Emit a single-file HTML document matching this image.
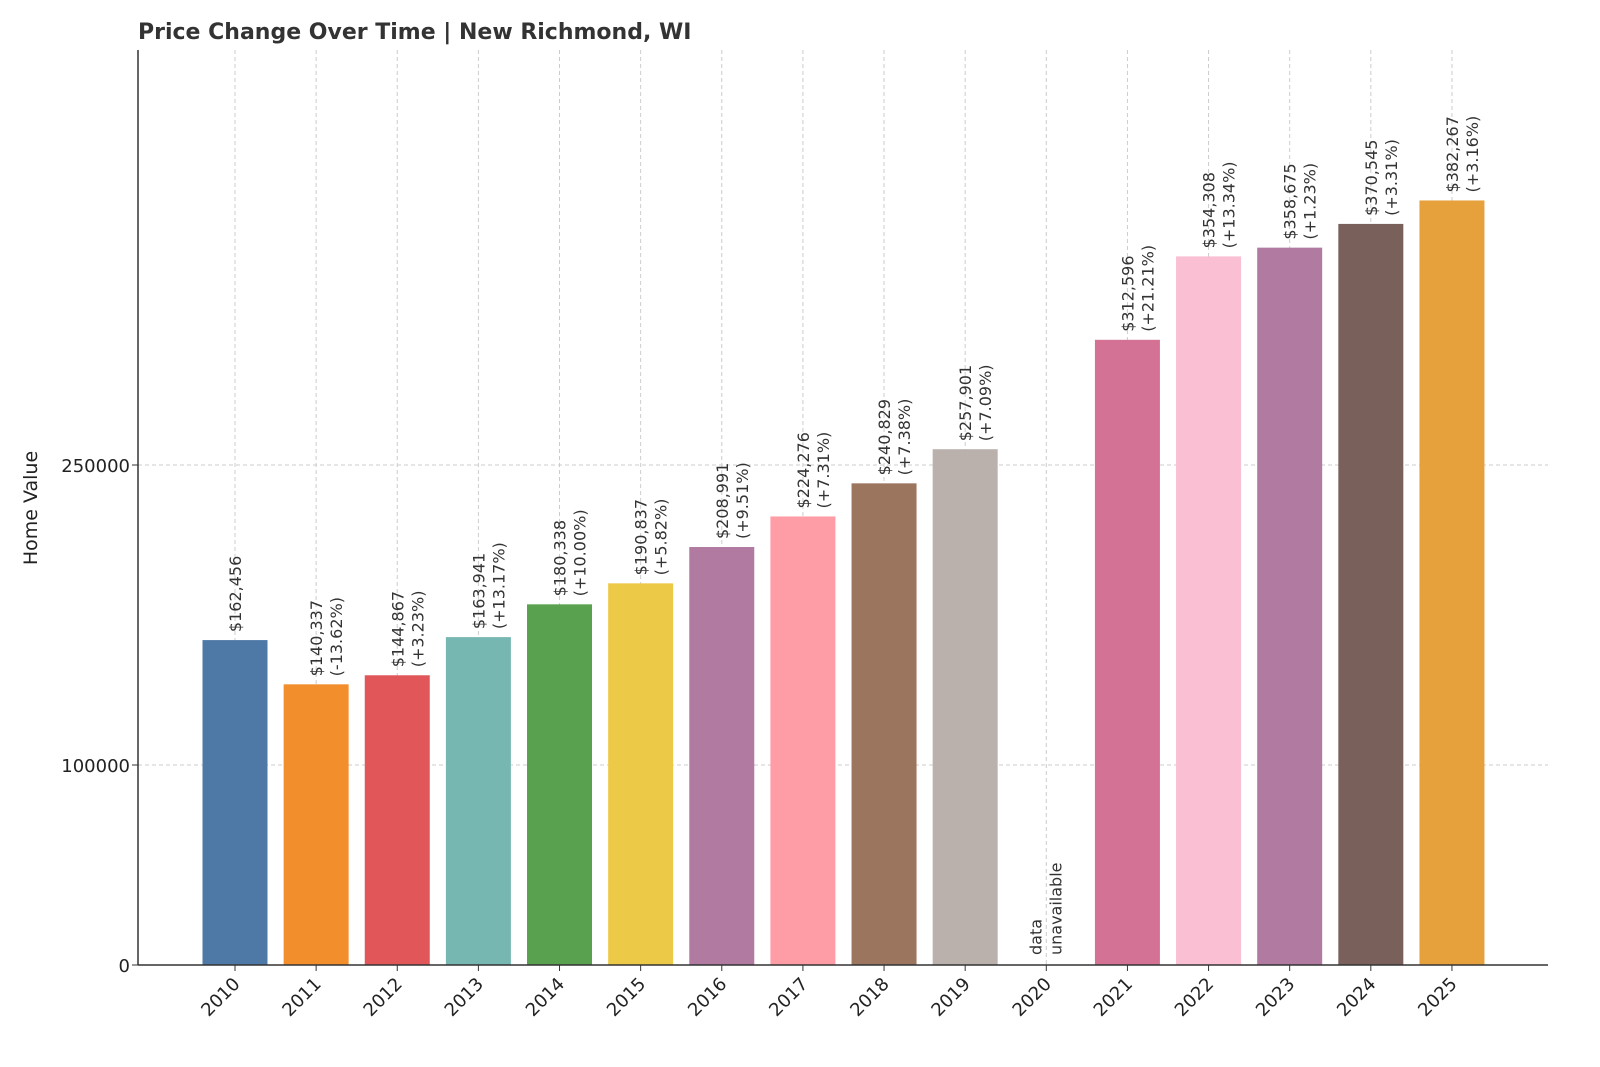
<!DOCTYPE html>
<html><head><meta charset="utf-8"><style>
body{margin:0;background:#fff;}
svg{display:block;font-family:"DejaVu Sans","Liberation Sans",sans-serif;}
</style></head><body>
<svg id="chart" width="1600" height="1067" viewBox="0 0 1600 1067">
<text x="138" y="39" font-size="22" font-weight="bold" fill="#333">Price Change Over Time | New Richmond, WI</text>
<text transform="translate(37,508) rotate(-90)" text-anchor="middle" font-size="19" fill="#222">Home Value</text>
<g id="grid"></g><g id="bars"></g><g id="labels"></g><g id="axes"></g>
</svg>
<script>
const years=["2010","2011","2012","2013","2014","2015","2016","2017","2018","2019","2020","2021","2022","2023","2024","2025"];
const values=[162456,140337,144867,163941,180338,190837,208991,224276,240829,257901,null,312596,354308,358675,370545,382267];
const pctLabels=["","(-13.62%)","(+3.23%)","(+13.17%)","(+10.00%)","(+5.82%)","(+9.51%)","(+7.31%)","(+7.38%)","(+7.09%)","","(+21.21%)","(+13.34%)","(+1.23%)","(+3.31%)","(+3.16%)"];
const colors=["#4e79a7","#f28e2b","#e15759","#76b7b2","#59a14f","#edc948","#b07aa1","#ff9da7","#9c755f","#bab0ac","#888","#d37295","#fabfd2","#b07aa1","#79605b","#e6a03c"];
const yTicks=[0,100000,250000];
const NS="http://www.w3.org/2000/svg";
const L=138,R=1548,T=50,B=965;
const y=v=>B-v*0.002;
const x=i=>235+i*81.13;
const BW=65;
function mk(tag,attrs,parent){const e=document.createElementNS(NS,tag);for(const k in attrs)e.setAttribute(k,attrs[k]);parent.appendChild(e);return e;}
const grid=document.getElementById('grid'),bars=document.getElementById('bars'),labels=document.getElementById('labels'),axes=document.getElementById('axes');
years.forEach((yr,i)=>{
  const g=mk('line',{x1:x(i),x2:x(i),y1:T,y2:B,stroke:"#ccc","stroke-dasharray":"4,3","stroke-width":1},grid);
  
  
});
yTicks.forEach(t=>{
  if(t===0)return;
  const g=mk('line',{x1:L,x2:R,y1:y(t),y2:y(t),stroke:"#ccc","stroke-dasharray":"4,3","stroke-width":1},grid);
  
  
});
years.forEach((yr,i)=>{
  const v=values[i];
  if(v===null){
    const t=mk('text',{transform:`translate(${x(i)-5},955) rotate(-90)`,"font-size":16,fill:"#333"},labels);
    
    
    const a=mk('tspan',{x:0,dy:0},t);a.textContent="data";
    const b=mk('tspan',{x:0,dy:20},t);b.textContent="unavailable";
  } else {
    const r=mk('rect',{x:x(i)-BW/2,y:y(v),width:BW,height:B-y(v),fill:colors[i]},bars);
    
    
    const t=mk('text',{transform:`translate(${x(i)+6},${y(v)-8}) rotate(-90)`,"font-size":16,fill:"#333"},labels);
    
    
    const a=mk('tspan',{x:0,dy:0},t);a.textContent="$"+v.toLocaleString('en-US');
    if(pctLabels[i]){const b=mk('tspan',{x:0,dy:20},t);b.textContent=pctLabels[i];}
  }
  const tk=mk('line',{x1:x(i),x2:x(i),y1:B,y2:B+6,stroke:"#333"},axes);
  
  
  const lb=mk('text',{transform:`translate(${x(i)+6},${B+20}) rotate(-45)`,"text-anchor":"end","font-size":18,fill:"#222"},axes);
  
  
  lb.textContent=yr;
});
yTicks.forEach(t=>{
  const tk=mk('line',{x1:L-6,x2:L,y1:y(t),y2:y(t),stroke:"#333"},axes);
  
  
  const lb=mk('text',{x:L-8,y:y(t)+7,"text-anchor":"end","font-size":18,fill:"#222"},axes);
  
  
  lb.textContent=String(t);
});
const ax=mk('line',{x1:L,x2:L,y1:T,y2:B,stroke:"#333","stroke-width":1.5},axes);


const bx=mk('line',{x1:L,x2:R,y1:B,y2:B,stroke:"#333","stroke-width":1.5},axes);


</script>
</body></html>
